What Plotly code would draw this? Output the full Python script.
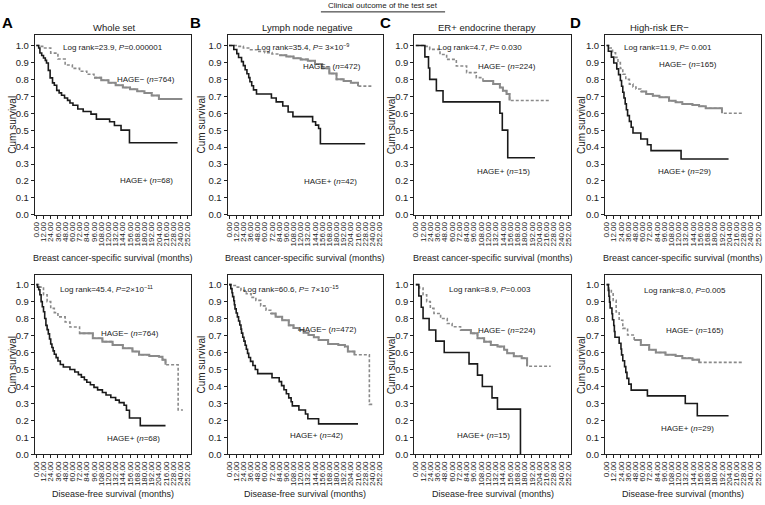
import plotly.graph_objects as go

W, H = 765, 505
FONT = "Arial, 'Liberation Sans', Helvetica, sans-serif"

# ---------------- text / ticks ----------------
figure_title = "Clinical outcome of the test set"
panel_letters = ["A", "B", "C", "D"]
panel_titles = ["Whole set", "Lymph node negative", "ER+ endocrine therapy", "High-risk ER\u2212"]
row_xlabels = ["Breast cancer-specific survival (months)", "Disease-free survival (months)"]
y_label = "Cum survival"
x_tick_values = [0, 12, 24, 36, 48, 60, 72, 84, 96, 108, 120, 132, 144, 156, 168, 180,
                 192, 204, 216, 228, 240, 252]
x_tick_labels = ["0.00", "12.00", "24.00", "36.00", "48.00", "60.00", "72.00", "84.00", "96.00",
                 "108.00", "120.00", "132.00", "144.00", "156.00", "168.00", "180.00", "192.00",
                 "204.00", "216.00", "228.00", "240.00", "252.00"]
y_tick_values = [0.0, 0.1, 0.2, 0.3, 0.4, 0.5, 0.6, 0.7, 0.8, 0.9, 1.0]
y_tick_labels = ["0.0", "0.1", "0.2", "0.3", "0.4", "0.5", "0.6", "0.7", "0.8", "0.9", "1.0"]

logrank_top = ["Log rank=23.9, <i>P</i>=0.000001",
               "Log rank=35.4, <i>P</i>= 3\u00d710<sup>\u22129</sup>",
               "Log rank=4.7, <i>P</i>= 0.030",
               "Log rank=11.9, <i>P</i>= 0.001"]
logrank_bottom = ["Log rank=45.4, <i>P</i>=2\u00d710<sup>\u221211</sup>",
                  "Log rank=60.6, <i>P</i>= 7\u00d710<sup>\u221215</sup>",
                  "Log rank=8.9, <i>P</i>=0.003",
                  "Log rank=8.0, <i>P</i>=0.005"]
n_neg = [764, 472, 224, 165]
n_pos = [68, 42, 15, 29]

# ---------------- data: breast cancer-specific survival (top row) ----------------
bcss_whole_neg_t = [0, 6, 12, 24, 36, 48, 60, 72, 84, 96, 108, 120, 132, 144, 156, 168, 180, 192, 204, 243]
bcss_whole_neg_s = [1.0, 0.995, 0.985, 0.955, 0.92, 0.885, 0.865, 0.848, 0.83, 0.81, 0.795, 0.78, 0.765,
                    0.752, 0.742, 0.73, 0.72, 0.705, 0.684, 0.684]
bcss_whole_pos_t = [0, 4, 6, 9, 12, 15, 17, 20, 23, 27, 30, 34, 38, 42, 47, 52, 56, 61, 69, 78, 91, 100,
                    122, 130, 141, 155, 235]
bcss_whole_pos_s = [1.0, 0.985, 0.956, 0.941, 0.926, 0.912, 0.897, 0.853, 0.809, 0.779, 0.765, 0.735, 0.72,
                    0.706, 0.69, 0.676, 0.66, 0.647, 0.625, 0.61, 0.595, 0.565, 0.55, 0.528, 0.50, 0.426, 0.426]

bcss_lnn_neg_t = [0, 12, 24, 36, 48, 60, 72, 84, 96, 108, 120, 132, 144, 156, 168, 180, 192, 204, 216, 240]
bcss_lnn_neg_s = [1.0, 0.995, 0.985, 0.975, 0.965, 0.958, 0.95, 0.942, 0.935, 0.925, 0.918, 0.91, 0.89,
                  0.865, 0.835, 0.80, 0.79, 0.78, 0.76, 0.756]
bcss_lnn_pos_t = [0, 8, 13, 16, 21, 24, 27, 30, 33, 35, 38, 41, 46, 71, 79, 90, 99, 107, 140, 145, 150, 153, 228]
bcss_lnn_pos_s = [1.0, 0.976, 0.952, 0.929, 0.905, 0.881, 0.857, 0.833, 0.81, 0.786, 0.762, 0.738, 0.714,
                  0.69, 0.667, 0.643, 0.607, 0.58, 0.55, 0.53, 0.51, 0.42, 0.42]

bcss_erp_neg_t = [0, 12, 23, 40, 51, 67, 84, 100, 111, 128, 139, 144, 150, 155, 221]
bcss_erp_neg_s = [1.0, 0.995, 0.977, 0.947, 0.918, 0.879, 0.84, 0.81, 0.79, 0.772, 0.752, 0.733, 0.713,
                  0.675, 0.675]
bcss_erp_pos_t = [0, 15, 21, 23, 34, 45, 139, 143, 152, 197]
bcss_erp_pos_s = [1.0, 0.933, 0.867, 0.80, 0.733, 0.667, 0.60, 0.50, 0.337, 0.337]

bcss_ern_neg_t = [0, 5, 10, 15, 19, 23, 27, 32, 38, 44, 49, 57, 66, 77, 88, 104, 115, 126, 143, 154, 165,
                  192, 228]
bcss_ern_neg_s = [1.0, 0.985, 0.957, 0.93, 0.899, 0.865, 0.83, 0.80, 0.772, 0.755, 0.743, 0.728, 0.713,
                  0.703, 0.694, 0.674, 0.665, 0.655, 0.649, 0.641, 0.629, 0.60, 0.60]
bcss_ern_pos_t = [0, 3, 8, 12, 17, 20, 23, 25, 27, 29, 31, 33, 35, 38, 41, 44, 57, 68, 74, 124, 203]
bcss_ern_pos_s = [1.0, 0.966, 0.931, 0.897, 0.862, 0.828, 0.793, 0.759, 0.724, 0.69, 0.655, 0.621, 0.586,
                  0.552, 0.517, 0.483, 0.448, 0.414, 0.379, 0.33, 0.33]

# ---------------- data: disease-free survival (bottom row) ----------------
dfs_whole_neg_t = [0, 6, 12, 18, 24, 30, 36, 48, 56, 72, 94, 110, 127, 144, 160, 171, 188, 204, 210, 215,
                   236, 244]
dfs_whole_neg_s = [1.0, 0.985, 0.94, 0.90, 0.86, 0.835, 0.81, 0.78, 0.75, 0.713, 0.684, 0.664, 0.645, 0.625,
                   0.606, 0.587, 0.58, 0.575, 0.558, 0.528, 0.262, 0.262]
dfs_whole_pos_t = [0, 2, 4, 6, 8, 10, 12, 14, 16, 18, 20, 22, 24, 26, 28, 30, 33, 36, 40, 45, 56, 64, 70,
                   75, 80, 84, 90, 96, 102, 110, 116, 124, 132, 138, 146, 150, 155, 173, 215]
dfs_whole_pos_s = [1.0, 0.985, 0.97, 0.94, 0.90, 0.87, 0.84, 0.80, 0.76, 0.735, 0.71, 0.68, 0.65, 0.63,
                   0.61, 0.59, 0.57, 0.55, 0.53, 0.515, 0.50, 0.485, 0.47, 0.455, 0.44, 0.425, 0.41, 0.395,
                   0.38, 0.365, 0.35, 0.335, 0.32, 0.305, 0.29, 0.26, 0.215, 0.17, 0.17]

dfs_lnn_neg_t = [0, 6, 12, 20, 29, 37, 45, 53, 62, 70, 78, 89, 100, 108, 117, 125, 133, 142, 150, 166, 183,
                 194, 199, 210, 235, 243]
dfs_lnn_neg_s = [1.0, 0.995, 0.985, 0.965, 0.946, 0.925, 0.907, 0.875, 0.849, 0.83, 0.81, 0.79, 0.76, 0.745,
                 0.732, 0.717, 0.703, 0.69, 0.674, 0.65, 0.645, 0.635, 0.606, 0.587, 0.295, 0.295]
dfs_lnn_pos_t = [0, 3, 5, 6, 8, 9, 10, 12, 14, 16, 18, 20, 21, 23, 25, 27, 29, 31, 33, 36, 40, 44, 48, 72,
                 84, 88, 92, 96, 100, 104, 106, 117, 128, 132, 150, 216]
dfs_lnn_pos_s = [1.0, 0.976, 0.952, 0.929, 0.905, 0.881, 0.857, 0.833, 0.81, 0.786, 0.762, 0.738, 0.714,
                 0.69, 0.667, 0.643, 0.619, 0.595, 0.571, 0.548, 0.524, 0.50, 0.476, 0.452, 0.429, 0.405,
                 0.381, 0.357, 0.333, 0.31, 0.286, 0.262, 0.238, 0.21, 0.18, 0.18]

dfs_erp_neg_t = [0, 6, 12, 18, 24, 30, 41, 52, 60, 74, 91, 102, 113, 124, 135, 146, 151, 162, 175, 184, 223]
dfs_erp_neg_s = [1.0, 0.98, 0.94, 0.90, 0.86, 0.83, 0.80, 0.771, 0.752, 0.732, 0.713, 0.684, 0.664, 0.645,
                 0.635, 0.616, 0.596, 0.578, 0.567, 0.519, 0.519]
dfs_erp_pos_t = [0, 5, 9, 12, 22, 33, 47, 88, 102, 110, 126, 135, 173]
dfs_erp_pos_s = [1.0, 0.933, 0.867, 0.80, 0.733, 0.667, 0.60, 0.533, 0.467, 0.40, 0.333, 0.267, 0.0]

dfs_ern_neg_t = [0, 4, 8, 11, 16, 21, 27, 35, 46, 57, 71, 82, 98, 115, 126, 143, 154, 225]
dfs_ern_neg_s = [1.0, 0.97, 0.946, 0.907, 0.839, 0.79, 0.742, 0.703, 0.674, 0.645, 0.616, 0.60, 0.587, 0.58,
                 0.567, 0.558, 0.542, 0.542]
dfs_ern_pos_t = [0, 3, 4, 5, 6, 9, 10, 12, 13, 14, 21, 24, 25, 27, 30, 32, 34, 37, 41, 68, 131, 151, 203]
dfs_ern_pos_s = [1.0, 0.966, 0.931, 0.897, 0.862, 0.828, 0.793, 0.759, 0.724, 0.69, 0.655, 0.621, 0.586,
                 0.552, 0.517, 0.483, 0.448, 0.414, 0.379, 0.345, 0.30, 0.228, 0.228]

neg_series = [[(bcss_whole_neg_t, bcss_whole_neg_s), (bcss_lnn_neg_t, bcss_lnn_neg_s),
               (bcss_erp_neg_t, bcss_erp_neg_s), (bcss_ern_neg_t, bcss_ern_neg_s)],
              [(dfs_whole_neg_t, dfs_whole_neg_s), (dfs_lnn_neg_t, dfs_lnn_neg_s),
               (dfs_erp_neg_t, dfs_erp_neg_s), (dfs_ern_neg_t, dfs_ern_neg_s)]]
pos_series = [[(bcss_whole_pos_t, bcss_whole_pos_s), (bcss_lnn_pos_t, bcss_lnn_pos_s),
               (bcss_erp_pos_t, bcss_erp_pos_s), (bcss_ern_pos_t, bcss_ern_pos_s)],
              [(dfs_whole_pos_t, dfs_whole_pos_s), (dfs_lnn_pos_t, dfs_lnn_pos_s),
               (dfs_erp_pos_t, dfs_erp_pos_s), (dfs_ern_pos_t, dfs_ern_pos_s)]]

# ---------------- styling / layout (pixels) ----------------
col_frames = [(32, 189), (226, 382), (414, 572), (606, 763)]
row_frames = [(35, 217), (278, 459)]
row_ymax = [1.064, 1.055]
x_range = [-2.5, 257]
neg_solid_span = [[(96, 243), (84, 216), (110, 155), (57, 192)],
                  [(60, 215), (70, 210), (74, 184), (46, 154)]]
logrank_pos = [[(111, 48), (302, 47), (480, 48), (669, 48)],
               [(104, 292), (290, 292), (490, 292), (686, 293)]]
neg_label_pos = [[(144, 80), (331, 67), (507, 67), (690, 65)],
                 [(128, 337), (327, 333), (507, 334), (697, 334)]]
pos_label_pos = [[(144, 182), (330, 183), (504, 173), (686, 173)],
                 [(131, 443), (316, 440), (484, 440), (689, 433)]]
letter_pos = [(5, 23), (194, 23), (385, 23), (576, 23)]
title_pos = [(112, 28), (306, 28), (487, 28), (661, 28)]
ytitle_x = [10, 200, 391, 583]
xtitle_y = [261, 499]

GRAY = "#8a8a8a"
BLACK = "#1a1a1a"


def px(x):
    return x / W


def py(y):
    return 1 - y / H


fig = go.Figure()
annotations = []
layout = {}

for r in range(2):
    for c in range(4):
        k = r * 4 + c + 1
        xa = "x" if k == 1 else f"x{k}"
        ya = "y" if k == 1 else f"y{k}"
        xl, xr = col_frames[c]
        yt, yb = row_frames[r]
        layout["xaxis" if k == 1 else f"xaxis{k}"] = dict(
            domain=[px(xl), px(xr)], anchor=ya, range=x_range,
            tickvals=x_tick_values, ticktext=x_tick_labels, tickangle=-90,
            tickfont=dict(size=8, color="#222", family=FONT),
            ticks="outside", ticklen=3, tickcolor="#222", tickwidth=1,
            showline=True, linecolor="#222", linewidth=1, mirror=True,
            showgrid=False, zeroline=False, fixedrange=True)
        layout["yaxis" if k == 1 else f"yaxis{k}"] = dict(
            domain=[py(yb), py(yt)], anchor=xa, range=[0, row_ymax[r]],
            tickvals=y_tick_values, ticktext=y_tick_labels,
            tickfont=dict(size=9.5, color="#222", family=FONT),
            ticks="outside", ticklen=3, tickcolor="#222", tickwidth=1,
            showline=True, linecolor="#222", linewidth=1, mirror=True,
            showgrid=False, zeroline=False, fixedrange=True)

        # HAGE- (grey): dotted base + solid middle part
        t, s = neg_series[r][c]
        fig.add_trace(go.Scatter(x=t, y=s, mode="lines", xaxis=xa, yaxis=ya,
                                 line=dict(color=GRAY, width=1.6, shape="hv", dash="3px,2px"),
                                 showlegend=False, hoverinfo="skip"))
        a, b = neg_solid_span[r][c]
        idx = [i for i, v in enumerate(t) if a <= v <= b]
        fig.add_trace(go.Scatter(x=[t[i] for i in idx], y=[s[i] for i in idx], mode="lines",
                                 xaxis=xa, yaxis=ya,
                                 line=dict(color=GRAY, width=2, shape="hv"),
                                 showlegend=False, hoverinfo="skip"))
        # HAGE+ (black)
        t, s = pos_series[r][c]
        fig.add_trace(go.Scatter(x=t, y=s, mode="lines", xaxis=xa, yaxis=ya,
                                 line=dict(color=BLACK, width=1.6, shape="hv"),
                                 showlegend=False, hoverinfo="skip"))

        lr = logrank_top[c] if r == 0 else logrank_bottom[c]
        for text, (x, y) in [(lr, logrank_pos[r][c]),
                             (f"HAGE\u2212 (<i>n</i>={n_neg[c]})", neg_label_pos[r][c]),
                             (f"HAGE+ (<i>n</i>={n_pos[c]})", pos_label_pos[r][c])]:
            annotations.append(dict(text=text, x=px(x), y=py(y), xref="paper", yref="paper",
                                    xanchor="center", yanchor="middle", showarrow=False,
                                    font=dict(size=8, color="#222", family=FONT)))
        # y title
        annotations.append(dict(text=y_label, x=px(ytitle_x[c]), y=py((yt + yb) / 2),
                                xref="paper", yref="paper", textangle=-90, showarrow=False,
                                xanchor="center", yanchor="middle",
                                font=dict(size=10, color="#222", family=FONT)))
        # x title
        annotations.append(dict(text=row_xlabels[r], x=px((xl + xr) / 2), y=py(xtitle_y[r]),
                                xref="paper", yref="paper", showarrow=False,
                                xanchor="center", yanchor="middle",
                                font=dict(size=9, color="#222", family=FONT)))

for c in range(4):
    x, y = letter_pos[c]
    annotations.append(dict(text=f"<b>{panel_letters[c]}</b>", x=px(x), y=py(y), xref="paper",
                            yref="paper", showarrow=False, xanchor="center", yanchor="middle",
                            font=dict(size=15, color="#000", family=FONT)))
    x, y = title_pos[c]
    annotations.append(dict(text=panel_titles[c], x=px(x), y=py(y), xref="paper", yref="paper",
                            showarrow=False, xanchor="center", yanchor="middle",
                            font=dict(size=9.5, color="#222", family=FONT)))

annotations.append(dict(text=figure_title, x=px(382), y=py(6), xref="paper", yref="paper",
                        showarrow=False, xanchor="center", yanchor="middle",
                        font=dict(size=8, color="#222", family=FONT)))

fig.update_layout(
    width=W, height=H, margin=dict(l=0, r=0, t=0, b=0),
    paper_bgcolor="white", plot_bgcolor="white",
    font=dict(family=FONT, color="#222"),
    annotations=annotations,
    shapes=[dict(type="line", xref="paper", yref="paper", x0=px(320), x1=px(445),
                 y0=py(12), y1=py(12), line=dict(color="#222", width=1))],
    **layout)

fig.write_html("out.html", config={"displayModeBar": False},
               post_script="document.body.style.margin='0';document.body.style.padding='0';")
